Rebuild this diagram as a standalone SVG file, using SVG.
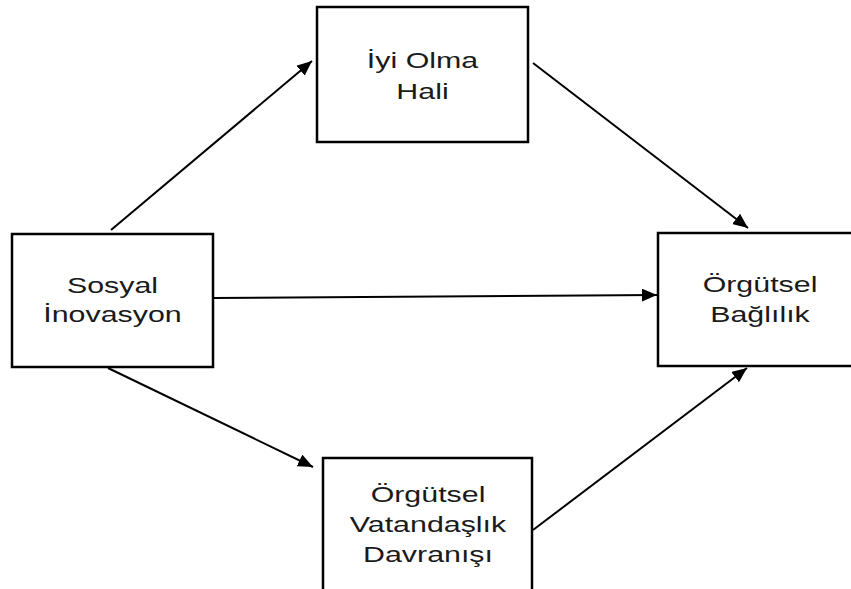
<svg xmlns="http://www.w3.org/2000/svg" width="851" height="589" viewBox="0 0 851 589">
<style>
.box{fill:#fff;stroke:#000;stroke-width:2.5}
.lbl{font-family:"Liberation Sans",Arial,sans-serif;font-size:22.5px;fill:#1a1a1a;text-anchor:middle}
.arr{stroke:#000;stroke-width:2;fill:none;marker-end:url(#ah)}
</style>
<defs>
<marker id="ah" markerUnits="userSpaceOnUse" markerWidth="15" markerHeight="13" refX="15" refY="6.5" orient="auto" viewBox="0 0 15 13">
<path d="M0,0 L15,6.5 L0,13 z" fill="#000"/>
</marker>
</defs>
<rect width="851" height="589" fill="#fff"/>
<g id="connectors">
<line class="arr" x1="111" y1="230" x2="312" y2="61"/>
<line class="arr" x1="533" y1="63" x2="748" y2="228"/>
<line class="arr" x1="213" y1="298" x2="657" y2="295"/>
<line class="arr" x1="108" y1="368" x2="313" y2="467"/>
<line class="arr" x1="533" y1="530" x2="747" y2="368"/>
</g>
<g id="iyi-olma">
<rect class="box" x="317" y="7" width="211" height="135"/>
<g transform="translate(422.5,0) scale(1.35,1)">
<text class="lbl" x="0" y="68">İyi Olma</text>
<text class="lbl" x="0" y="99">Hali</text>
</g>
</g>
<g id="sosyal">
<rect class="box" x="12" y="234" width="201" height="133"/>
<g transform="translate(112.5,0) scale(1.35,1)">
<text class="lbl" x="0" y="293">Sosyal</text>
<text class="lbl" x="0" y="322">İnovasyon</text>
</g>
</g>
<g id="orgutsel-baglilik">
<rect class="box" x="658" y="233" width="210" height="133"/>
<g transform="translate(760,0) scale(1.35,1)">
<text class="lbl" x="0" y="292">Örgütsel</text>
<text class="lbl" x="0" y="322">Bağlılık</text>
</g>
</g>
<g id="ovd">
<rect class="box" x="323" y="458" width="209" height="150"/>
<g transform="translate(428,0) scale(1.35,1)">
<text class="lbl" x="0" y="502">Örgütsel</text>
<text class="lbl" x="0" y="532">Vatandaşlık</text>
<text class="lbl" x="0" y="562">Davranışı</text>
</g>
</g>
</svg>
